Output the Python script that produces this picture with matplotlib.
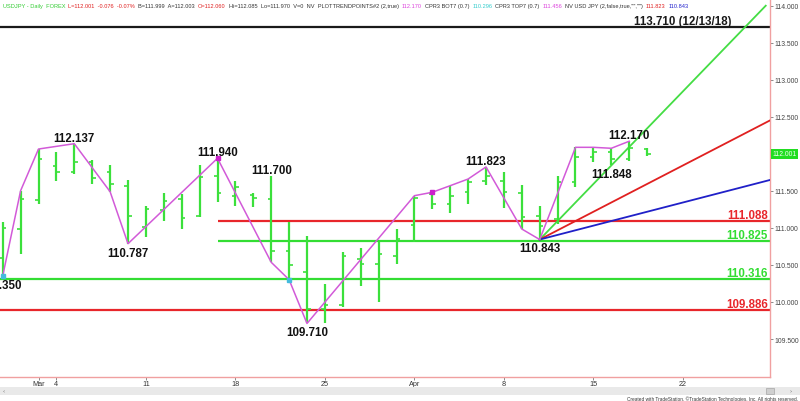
import matplotlib
matplotlib.use("Agg")
import matplotlib.pyplot as plt
from matplotlib.patches import Rectangle
import numpy as np

# ---------------- data ----------------
# trading-day index 0 = Feb 27 2019
opens  = [110.59, 110.985, 111.381, 111.832, 111.751, 111.886, 111.751, 111.570, 111.008, 111.246,
          111.390, 111.165, 111.705, 111.435, 111.444, 111.390, 110.692, 110.400, 109.905, 109.959,
          110.580, 110.513, 110.625, 111.040, 111.458, 111.323, 111.481, 111.638, 111.638, 111.471,
          111.165, 111.120, 111.624, 111.953, 112.021, 111.930, 112.060]
highs  = [111.084, 111.502, 112.065, 112.021, 112.137, 111.917, 111.849, 111.647, 111.300, 111.471,
          111.458, 111.849, 111.940, 111.637, 111.471, 111.700, 111.084, 110.895, 110.243, 110.679,
          110.725, 110.806, 110.985, 111.435, 111.481, 111.570, 111.660, 111.823, 111.751, 111.579,
          111.292, 111.697, 112.088, 112.088, 112.075, 112.170, 112.085]
lows   = [110.350, 110.641, 111.323, 111.629, 111.728, 111.593, 111.489, 110.787, 110.873, 111.097,
          110.985, 111.143, 111.343, 111.292, 111.278, 110.536, 110.301, 109.710, 109.716, 109.928,
          110.220, 109.996, 110.513, 110.806, 111.255, 111.201, 111.323, 111.579, 111.265, 110.985,
          110.843, 111.053, 111.548, 111.886, 111.848, 111.907, 111.970]
closes = [111.000, 111.384, 111.930, 111.751, 111.886, 111.670, 111.593, 111.165, 111.255, 111.367,
          111.134, 111.683, 111.471, 111.552, 111.400, 110.692, 110.500, 109.905, 109.959, 110.625,
          110.513, 110.648, 110.850, 111.400, 111.323, 111.435, 111.616, 111.705, 111.481, 111.143,
          111.030, 111.624, 111.953, 112.021, 111.930, 112.077, 112.001]

xtick_idx = [2, 3, 8, 13, 18, 23, 28, 33, 38]
xtick_lab = ["Mar", "4", "11", "18", "25", "Apr", "8", "15", "22"]
ytick_vals = [109.5, 110.0, 110.5, 111.0, 111.5, 112.0, 112.5, 113.0, 113.5, 114.0]

# zigzag (trend points)
zig_idx = [0, 1, 2, 4, 6, 7, 12, 15, 16, 17, 23, 24, 25, 26, 27, 29, 30, 32, 33, 34, 35]
zig_val = [110.350, 111.502, 112.065, 112.137, 111.489, 110.787, 111.940, 110.536, 110.301, 109.710,
           111.435, 111.481, 111.570, 111.660, 111.823, 110.985, 110.843, 112.088, 112.088, 112.075, 112.170]
dot_magenta = [(12, 111.940), (24, 111.481)]
dot_cyan = [(0, 110.350), (16, 110.301)]

# pivot labels: (index, value, "H" above / "L" below)
pivot_idx = [0, 4, 7, 12, 15, 17, 27, 30, 35, 34]
pivot_val = [110.350, 112.137, 110.787, 111.940, 111.700, 109.710, 111.823, 110.843, 112.170, 111.848]
pivot_side = ["L", "H", "L", "H", "H", "L", "H", "L", "H", "L"]

# horizontal levels
level_vals = [113.710, 111.088, 110.825, 110.316, 109.886]
level_text = ["113.710 (12/13/18)", "111.088", "110.825", "110.316", "109.886"]
level_start = [None, 12, 12, None, None]
level_cols = ["#1a1a1a", "#e8262b", "#33dd33", "#33dd33", "#e8262b"]

# gann fan
fan_origin = (30, 110.843)
fan_slopes = [0.25, 0.125, 0.0625]
fan_cols = ["#44dd44", "#e02020", "#2020c8"]
fan_top = 114.0

last_price = 112.001

header = [
    (2, "USDJPY - Daily  FOREX", "#33cc33"),
    (62, "L=112.001  -0.076  -0.07%", "#e02020"),
    (128, "B=111.999  A=112.003", "#333333"),
    (187, "O=112.060", "#e02020"),
    (215, "Hi=112.085  Lo=111.970  V=0  NV  PLOTTRENDPOINTS#2 (2,true)", "#333333"),
    (390, "112.170", "#dd44dd"),
    (403, "CPR3 BOT7 (0.7)", "#333333"),
    (451, "110.296", "#33cccc"),
    (473, "CPR3 TOP7 (0.7)", "#333333"),
    (519, "111.456", "#dd44dd"),
    (540, 'NV USD JPY (2,false,true,"","")', "#333333"),
    (618, "111.823", "#e02020"),
    (638, "110.843", "#2020cc"),
]

# ---------------- figure ----------------
W, H = 800, 402
fig = plt.figure(figsize=(W / 100, H / 100), dpi=100)
ax = fig.add_axes([0, 24 / H, 770 / W, 378 / H])
XMIN, XMAX = -0.151, 42.866
ax.set_xlim(XMIN, XMAX)
ax.set_ylim(108.987, 114.0905)

GREEN = "#3be03b"
PINK = "#d25ad8"
LBL = ["Liberation Sans", "DejaVu Sans"]
SMALL = ["Liberation Sans", "DejaVu Sans"]

# levels
for v, t, s, c in zip(level_vals, level_text, level_start, level_cols):
    x0 = XMIN if s is None else s
    ax.plot([x0, XMAX], [v, v], color=c, lw=1.6, solid_capstyle="butt", zorder=2)
    xt = 40.74 if (s is None and v > 113) else 42.75
    ax.annotate(t, (xt, v), xytext=(0, 2.2), textcoords="offset points",
                ha="right", va="baseline", fontsize=8.3, fontweight="bold",
                color=c, family=LBL, zorder=5)

# fan
ox, oy = fan_origin
for sl, c in zip(fan_slopes, fan_cols):
    xe = XMAX + 1
    if oy + sl * (xe - ox) > fan_top:
        xe = ox + (fan_top - oy) / sl
    ax.plot([ox, xe], [oy, oy + sl * (xe - ox)], color=c, lw=1.3, zorder=3)

# bars
idx = np.arange(len(opens))
tick = 0.2
ax.vlines(idx, lows, highs, color=GREEN, lw=1.6, zorder=4)
ax.hlines(opens, idx - tick, idx, color=GREEN, lw=1.2, zorder=4)
ax.hlines(closes, idx, idx + tick, color=GREEN, lw=1.2, zorder=4)

# zigzag
ax.plot(zig_idx, zig_val, color=PINK, lw=1.1, zorder=5)
for (i, v) in dot_magenta:
    ax.plot(i, v, "s", ms=2.5, color="#cc22cc", zorder=6)
for (i, v) in dot_cyan:
    ax.plot(i, v, "s", ms=2.5, color="#44bbdd", zorder=6)

# pivot labels
for i, v, sd in zip(pivot_idx, pivot_val, pivot_side):
    dy = 2.2 if sd == "H" else -8.6
    xi = i - 0.1 if i == 0 else i
    ax.annotate(f"{v:.3f}", (xi, v), xytext=(0, dy), textcoords="offset points",
                ha="center", va="baseline", fontsize=8.3, fontweight="bold",
                color="#111111", family=LBL, zorder=7, annotation_clip=False)

# axes styling
for sp in ["left", "top"]:
    ax.spines[sp].set_visible(False)
for sp in ["right", "bottom"]:
    ax.spines[sp].set_color("#f0a0a0")
    ax.spines[sp].set_linewidth(1.0)
ax.yaxis.tick_right()
ax.set_yticks(ytick_vals)
ax.set_yticklabels(["" if abs(v - round(last_price, 1)) < 1e-9 else f"{v:.3f}" for v in ytick_vals],
                   fontsize=4.9, color="#444444", family=SMALL)
ax.tick_params(axis="y", length=2, width=0.6, color="#777777", pad=1)
ax.set_xticks(xtick_idx)
ax.set_xticklabels(xtick_lab, fontsize=5.2, color="#333333", family=SMALL)
ax.tick_params(axis="x", length=2, width=0.6, color="#777777", pad=0.5)

# last-price box
ax.text(1.003, last_price, f"{last_price:.3f}", transform=ax.get_yaxis_transform(),
        ha="left", va="center", fontsize=4.9, color="#f0fff0", family=SMALL,
        bbox=dict(boxstyle="square,pad=0.2", fc="#22dd22", ec="none"), clip_on=False, zorder=10)

# header (placed left to right, never overlapping)
fig.canvas.draw()
rend = fig.canvas.get_renderer()
cur = 0
for xp, t, c in header:
    x = max(xp, cur + 3)
    tx = fig.text(x / W, 1 - 6.5 / H, t, ha="left", va="center", fontsize=4.1, color=c, family=SMALL)
    bb = tx.get_window_extent(renderer=rend)
    cur = bb.x1

# scroll strip and footer
fig.patches.append(Rectangle((0, 6 / H), 1, 8 / H, transform=fig.transFigure,
                             fc="#e9e9e9", ec="none"))
fig.patches.append(Rectangle((766 / W, 7 / H), 8 / W, 6 / H, transform=fig.transFigure,
                             fc="#cfcfcf", ec="#999999", lw=0.4))
fig.text(3 / W, 10 / H, "‹", fontsize=4, color="#666666", va="center")
fig.text(790 / W, 10 / H, "›", fontsize=4, color="#666666", va="center")
fig.text(798 / W, 2.5 / H, "Created with TradeStation. \u00a9TradeStation Technologies, Inc. All rights reserved.",
         ha="right", va="center", fontsize=3.4, color="#333333", family=SMALL)

fig.savefig("out.png", dpi=100, facecolor="white")
